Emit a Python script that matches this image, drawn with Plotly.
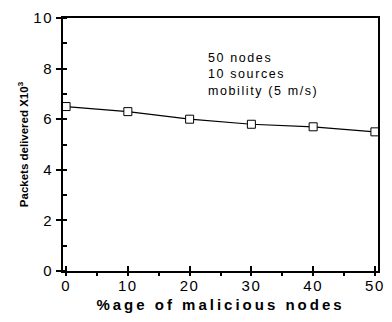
import plotly.graph_objects as go

malicious_pct = [0, 10, 20, 30, 40, 50]
packets_delivered = [6.5, 6.3, 6.0, 5.8, 5.7, 5.5]
x_ticks = [0, 10, 20, 30, 40, 50]
y_ticks = [0, 2, 4, 6, 8, 10]
note_lines = ["50 nodes", "10 sources", "mobility (5 m/s)"]

fig = go.Figure()
fig.add_trace(go.Scatter(
    x=malicious_pct, y=packets_delivered, mode="lines+markers",
    line=dict(color="black", width=1.2),
    marker=dict(symbol="square", size=8, color="white",
                line=dict(color="black", width=1)),
    showlegend=False, cliponaxis=False,
))

fig.add_annotation(
    x=22.6, y=7.77, xref="x", yref="y", xanchor="left", yanchor="middle",
    text="<br>".join(note_lines), showarrow=False, align="left",
    font=dict(family="Liberation Sans, Arial", size=12.5, color="black"),
)

axis_font = dict(family="Liberation Sans, Arial", size=15, color="black")
fig.update_layout(
    width=392, height=322,
    margin=dict(l=63, r=9, t=17, b=51),
    paper_bgcolor="white", plot_bgcolor="white",
    xaxis=dict(
        range=[-0.5, 50.5], tickvals=x_ticks, ticks="inside", ticklen=5,
        tickwidth=1.5, tickcolor="black",
        minor=dict(dtick=5, ticks="outside", ticklen=3, tickwidth=1.5, tickcolor="black"),
        showline=True, linecolor="black", linewidth=2, mirror=True,
        showgrid=False, zeroline=False, tickfont=axis_font,
        title=dict(text="<b>%age of malicious nodes</b>", standoff=6,
                   font=dict(family="Liberation Sans, Arial", size=15, color="black")),
    ),
    yaxis=dict(
        range=[0, 10], tickvals=y_ticks, ticks="outside", ticklen=5,
        tickwidth=1.5, tickcolor="black",
        minor=dict(dtick=1, ticks="inside", ticklen=4, tickwidth=1.5, tickcolor="black"),
        showline=True, linecolor="black", linewidth=2, mirror=True,
        showgrid=False, zeroline=False, tickfont=axis_font,
        title=dict(text="<b>Packets delivered X10<sup>3</sup></b>", standoff=5,
                   font=dict(family="Liberation Sans, Arial", size=11.5, color="black")),
    ),
)

post_js = """
document.body.style.margin = '0';
var gd = document.getElementsByClassName('plotly-graph-div')[0];
function spaced(){
  gd.querySelectorAll('.xtick text, .ytick text').forEach(function(e){ e.style.letterSpacing = '1.5px'; });
  gd.querySelectorAll('.annotation-text').forEach(function(e){ e.style.letterSpacing = '1.6px'; });
  gd.querySelectorAll('.xtitle').forEach(function(e){ e.style.letterSpacing = '3px'; });
}
spaced();
gd.on('plotly_afterplot', spaced);
"""

fig.write_html("out.html", post_script=post_js, config={"displayModeBar": False})
